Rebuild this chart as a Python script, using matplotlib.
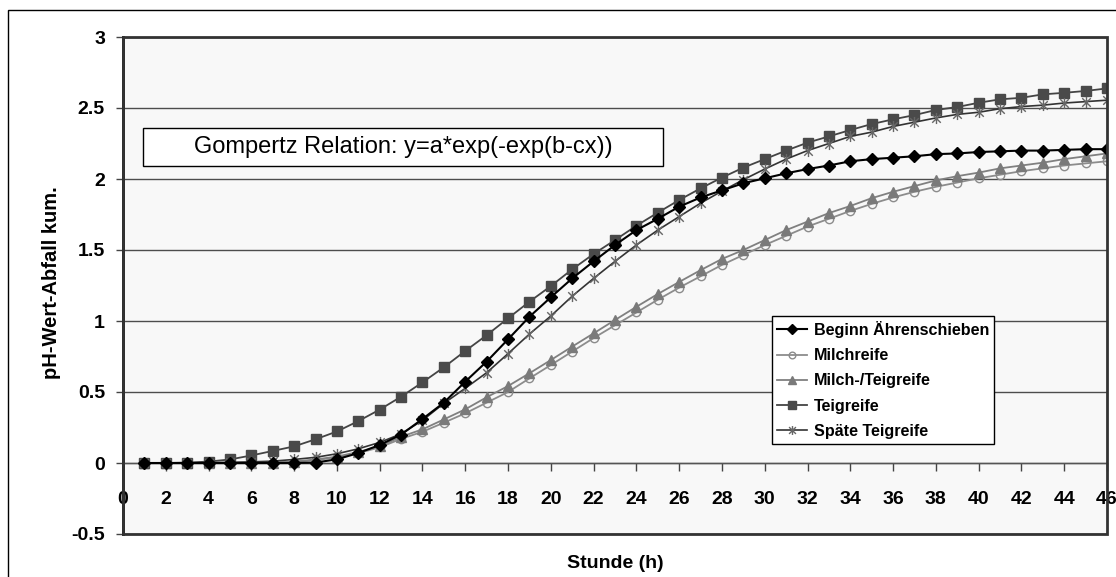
import numpy as np
import matplotlib
matplotlib.use("Agg")
import matplotlib.pyplot as plt
from matplotlib.path import Path
from matplotlib.patches import Rectangle

plt.rcParams['font.family'] = ['Liberation Sans', 'DejaVu Sans']

# hours 1..46
stunde = list(range(1, 47))

beginn = [0, 0, 0, 0, 0, 0, 0, 0.0, 0.003, 0.026, 0.07, 0.127, 0.2, 0.31, 0.425,
          0.573, 0.714, 0.871, 1.03, 1.167, 1.30, 1.42, 1.535, 1.64, 1.72, 1.805,
          1.87, 1.92, 1.97, 2.005, 2.04, 2.07, 2.095, 2.125, 2.14, 2.15, 2.16,
          2.175, 2.18, 2.19, 2.195, 2.20, 2.20, 2.205, 2.21, 2.21]
milchreife = [0, 0, 0, 0, 0, 0, 0.002, 0.008, 0.02, 0.04, 0.07, 0.11, 0.17, 0.22,
              0.284, 0.35, 0.425, 0.50, 0.596, 0.69, 0.785, 0.88, 0.97, 1.06, 1.15,
              1.235, 1.315, 1.395, 1.465, 1.535, 1.60, 1.665, 1.72, 1.775, 1.825,
              1.87, 1.91, 1.945, 1.975, 2.005, 2.03, 2.055, 2.075, 2.095, 2.11, 2.125]
milch_teig = [0, 0, 0, 0, 0, 0, 0.003, 0.01, 0.025, 0.045, 0.078, 0.118, 0.185,
              0.237, 0.307, 0.378, 0.463, 0.542, 0.632, 0.725, 0.82, 0.913, 1.007,
              1.10, 1.19, 1.275, 1.358, 1.437, 1.50, 1.57, 1.64, 1.70, 1.76, 1.81,
              1.865, 1.91, 1.95, 1.99, 2.02, 2.045, 2.075, 2.095, 2.115, 2.14, 2.16, 2.18]
teigreife = [0, 0, 0.003, 0.01, 0.025, 0.053, 0.085, 0.117, 0.167, 0.222, 0.295,
             0.376, 0.467, 0.568, 0.674, 0.789, 0.90, 1.019, 1.136, 1.246, 1.364,
             1.472, 1.57, 1.671, 1.763, 1.852, 1.934, 2.01, 2.08, 2.14, 2.20, 2.256,
             2.30, 2.345, 2.387, 2.42, 2.45, 2.486, 2.507, 2.537, 2.561, 2.572,
             2.596, 2.607, 2.62, 2.638]
spaete = [0, 0, 0, 0.002, 0.005, 0.008, 0.013, 0.025, 0.04, 0.065, 0.10, 0.145,
          0.205, 0.30, 0.42, 0.526, 0.636, 0.77, 0.908, 1.035, 1.175, 1.30, 1.42,
          1.535, 1.64, 1.735, 1.83, 1.915, 1.995, 2.07, 2.14, 2.20, 2.25, 2.30,
          2.33, 2.37, 2.40, 2.43, 2.455, 2.47, 2.495, 2.51, 2.52, 2.535, 2.545, 2.555]

x_ticks = list(range(0, 47, 2))
y_ticks = [-0.5, 0, 0.5, 1, 1.5, 2, 2.5, 3]
y_labels = ['-0.5', '0', '0.5', '1', '1.5', '2', '2.5', '3']

W, H = 1116, 577
fig = plt.figure(figsize=(W / 100, H / 100), dpi=100)
fig.patch.set_facecolor('white')

# outer chart border
fig.patches.append(Rectangle((8 / W, -0.05), 1.2, 1 - 10 / H + 0.05, transform=fig.transFigure,
                             fill=False, ec='black', lw=1))

ax = fig.add_axes([123 / W, (H - 534) / H, 984 / W, 497 / H])
ax.set_facecolor('#f8f8f8')

# asterisk marker like Excel's star
star = Path([(-1, -1), (1, 1), (-1, 1), (1, -1), (0, -1.3), (0, 1.3)],
            [Path.MOVETO, Path.LINETO, Path.MOVETO, Path.LINETO, Path.MOVETO, Path.LINETO])

ax.plot(stunde, beginn, color='black', lw=1.5, marker='D', ms=6.5, mfc='black', mec='black',
        label='Beginn Ährenschieben', zorder=5)
ax.plot(stunde, milchreife, color='#8c8c8c', lw=1.3, marker='o', ms=6, mfc='none', mec='#8c8c8c',
        label='Milchreife', zorder=3)
ax.plot(stunde, milch_teig, color='#808080', lw=1.3, marker='^', ms=7, mfc='#7a7a7a', mec='#7a7a7a',
        label='Milch-/Teigreife', zorder=4)
ax.plot(stunde, teigreife, color='#444444', lw=1.3, marker='s', ms=6.5, mfc='#4a4a4a', mec='#4a4a4a',
        label='Teigreife', zorder=4)
ax.plot(stunde, spaete, color='#333333', lw=1.2, marker=star, ms=8, mfc='none', mec='#666666',
        mew=1, label='Späte Teigreife', zorder=4)

ax.set_xlim(0, 46)
ax.set_ylim(-0.5, 3)
ax.set_xticks(x_ticks)
ax.set_xticklabels([str(t) for t in x_ticks])
ax.set_yticks(y_ticks)
ax.set_yticklabels(y_labels)

ax.yaxis.grid(True, color='#4d4d4d', lw=1)
ax.set_axisbelow(True)

for s in ['top', 'right']:
    ax.spines[s].set_visible(False)
ax.spines['left'].set_color('black')
ax.spines['left'].set_linewidth(2)
ax.spines['bottom'].set_position(('data', 0))
ax.spines['bottom'].set_color('#555555')
ax.spines['bottom'].set_linewidth(1)
ax.add_patch(Rectangle((0, 0), 1, 1, transform=ax.transAxes, fill=False,
                       ec='#333333', lw=2, clip_on=False, zorder=6))

ax.tick_params(axis='x', direction='out', length=6, width=1, color='#444444', pad=14,
               labelsize=14)
ax.tick_params(axis='y', direction='out', length=5, width=1, color='#444444', pad=8,
               labelsize=14)
for lab in ax.get_xticklabels() + ax.get_yticklabels():
    lab.set_fontweight('bold')

fig.text(615 / W, 1 - 563 / H, 'Stunde (h)', ha='center', va='center', fontsize=14,
         fontweight='bold')
fig.text(52 / W, 1 - 283 / H, 'pH-Wert-Abfall kum.', ha='center', va='center', fontsize=14.5,
         fontweight='bold', rotation=90)

# formula box
fig.patches.append(Rectangle((142.5 / W, 1 - 166 / H), 520 / W, 38 / H, transform=fig.transFigure,
                             fc='white', ec='black', lw=1, zorder=7))
fig.text(403 / W, 1 - 147 / H, 'Gompertz Relation: y=a*exp(-exp(b-cx))', ha='center',
         va='center', fontsize=17, zorder=8)

leg = ax.legend(loc='upper left', bbox_to_anchor=(772 / W, 1 - 316 / H),
                bbox_transform=fig.transFigure, frameon=True, fancybox=False,
                framealpha=1, edgecolor='black', handlelength=1.9,
                handletextpad=0.4, labelspacing=0.64, borderpad=0.3, borderaxespad=0,
                markerscale=0.8, prop={'weight': 'bold', 'size': 11.6})
leg.get_frame().set_linewidth(1)
leg.set_zorder(10)

fig.savefig('out.png', dpi=100)
